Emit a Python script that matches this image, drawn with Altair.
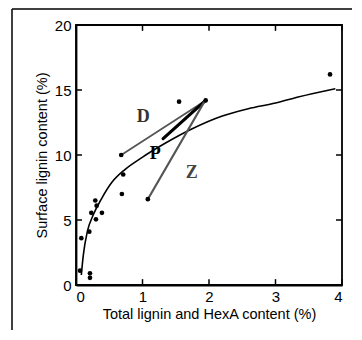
import altair as alt
import pandas as pd

# scatter points (total lignin+HexA %, surface lignin %)
pt_x = [0.06, 0.08, 0.20, 0.21, 0.21, 0.23, 0.29, 0.30, 0.31, 0.39, 0.69, 0.71, 0.68, 1.08, 1.55, 1.95, 3.82]
pt_y = [1.1, 3.6, 4.1, 0.9, 0.55, 5.55, 6.5, 5.05, 6.1, 5.55, 7.0, 8.5, 10.0, 6.6, 14.1, 14.2, 16.2]

# fitted curve
cv_x = [0.08, 0.11, 0.17, 0.26, 0.385, 0.54, 0.74, 0.99, 1.34, 1.74, 2.2, 2.59, 3.0, 3.34, 3.9]
cv_y = [0.77, 2.3, 4.1, 5.4, 6.65, 7.9, 8.9, 9.8, 10.9, 12.0, 13.0, 13.56, 14.0, 14.46, 15.1]

# bleaching stage segments
seg_name = ["D", "P", "Z"]
seg_x1 = [0.68, 1.31, 1.08]
seg_y1 = [10.0, 11.26, 6.6]
seg_x2 = [1.95, 1.95, 1.93]
seg_y2 = [14.2, 14.2, 14.1]
seg_w = [1.8, 3.2, 2.2]
seg_col = ["#555555", "#000000", "#555555"]

lab_text = ["D", "P", "Z"]
lab_x = [1.01, 1.19, 1.74]
lab_y = [12.9, 10.1, 8.6]
lab_col = ["#333333", "#000000", "#444444"]

x_ticks = [0, 1, 2, 3, 4]
y_ticks = [0, 5, 10, 15, 20]

xs = alt.Scale(domain=[0, 4], nice=False)
ys = alt.Scale(domain=[0, 20], nice=False)

pts = pd.DataFrame({"x": pt_x, "y": pt_y})
curve = pd.DataFrame({"x": cv_x, "y": cv_y})
segs = pd.DataFrame({"name": seg_name, "x1": seg_x1, "y1": seg_y1, "x2": seg_x2,
                     "y2": seg_y2, "w": seg_w, "c": seg_col})
labs = pd.DataFrame({"t": lab_text, "x": lab_x, "y": lab_y, "c": lab_col})

xt = pd.DataFrame({"v": x_ticks})
yt = pd.DataFrame({"v": y_ticks})

base_x = alt.X("x:Q", scale=xs, title="Total lignin and HexA content (%)",
               axis=alt.Axis(values=x_ticks, ticks=False, grid=False, format="d"))
base_y = alt.Y("y:Q", scale=ys, title="Surface lignin content (%)",
               axis=alt.Axis(values=y_ticks, ticks=False, grid=False, format="d"))

curve_l = alt.Chart(curve).mark_line(interpolate="monotone", color="black", strokeWidth=1.6).encode(
    x=base_x, y=base_y)

seg_l = alt.Chart(segs).mark_rule(strokeCap="round").encode(
    x=alt.X("x1:Q", scale=xs), y=alt.Y("y1:Q", scale=ys),
    x2="x2:Q", y2="y2:Q",
    strokeWidth=alt.StrokeWidth("w:Q", scale=None),
    color=alt.Color("c:N", scale=None))

pts_l = alt.Chart(pts).mark_circle(size=22, color="black", opacity=1).encode(
    x=alt.X("x:Q", scale=xs), y=alt.Y("y:Q", scale=ys))

lab_l = alt.Chart(labs).mark_text(font="Liberation Serif", fontWeight="bold", fontSize=18).encode(
    x=alt.X("x:Q", scale=xs), y=alt.Y("y:Q", scale=ys), text="t:N",
    color=alt.Color("c:N", scale=None))

# inward ticks on all four sides
tb = alt.Chart(xt).mark_rule(color="black", strokeWidth=1.5).encode(
    x=alt.X("v:Q", scale=xs), y=alt.datum(0, scale=ys), y2=alt.datum(0.45))
tt = alt.Chart(xt).mark_rule(color="black", strokeWidth=1.5).encode(
    x=alt.X("v:Q", scale=xs), y=alt.datum(20, scale=ys), y2=alt.datum(19.55))
tl = alt.Chart(yt).mark_rule(color="black", strokeWidth=1.5).encode(
    y=alt.Y("v:Q", scale=ys), x=alt.datum(0, scale=xs), x2=alt.datum(0.09))
tr = alt.Chart(yt).mark_rule(color="black", strokeWidth=1.5).encode(
    y=alt.Y("v:Q", scale=ys), x=alt.datum(4, scale=xs), x2=alt.datum(3.91))

# scanned page frame
frame_l = alt.Chart(pd.DataFrame({"k": [0]})).mark_rule(color="black", strokeWidth=1.5).encode(
    x=alt.value(-64), y=alt.value(-16), y2=alt.value(320))
frame_t = alt.Chart(pd.DataFrame({"k": [0]})).mark_rule(color="black", strokeWidth=1.5).encode(
    x=alt.value(-64), x2=alt.value(276), y=alt.value(-16))

chart = alt.layer(curve_l, seg_l, pts_l, lab_l, tb, tt, tl, tr, frame_l, frame_t).properties(
    width=266, height=260,
    autosize=alt.AutoSizeParams(type="none"),
    padding={"left": 68, "top": 17, "right": 10, "bottom": 45},
).configure_view(stroke="black", strokeWidth=1.8).configure_axis(
    domainColor="black", domainWidth=1.8,
    labelFont="Liberation Sans", labelFontSize=15, labelColor="black", labelPadding=4,
    titleFont="Liberation Sans", titleFontSize=14.5, titleFontWeight="normal", titleColor="black",
    titlePadding=3,
).configure_axisY(labelPadding=5, titlePadding=5)

chart.save("out.html", embed_options={"renderer": "svg", "actions": False})
